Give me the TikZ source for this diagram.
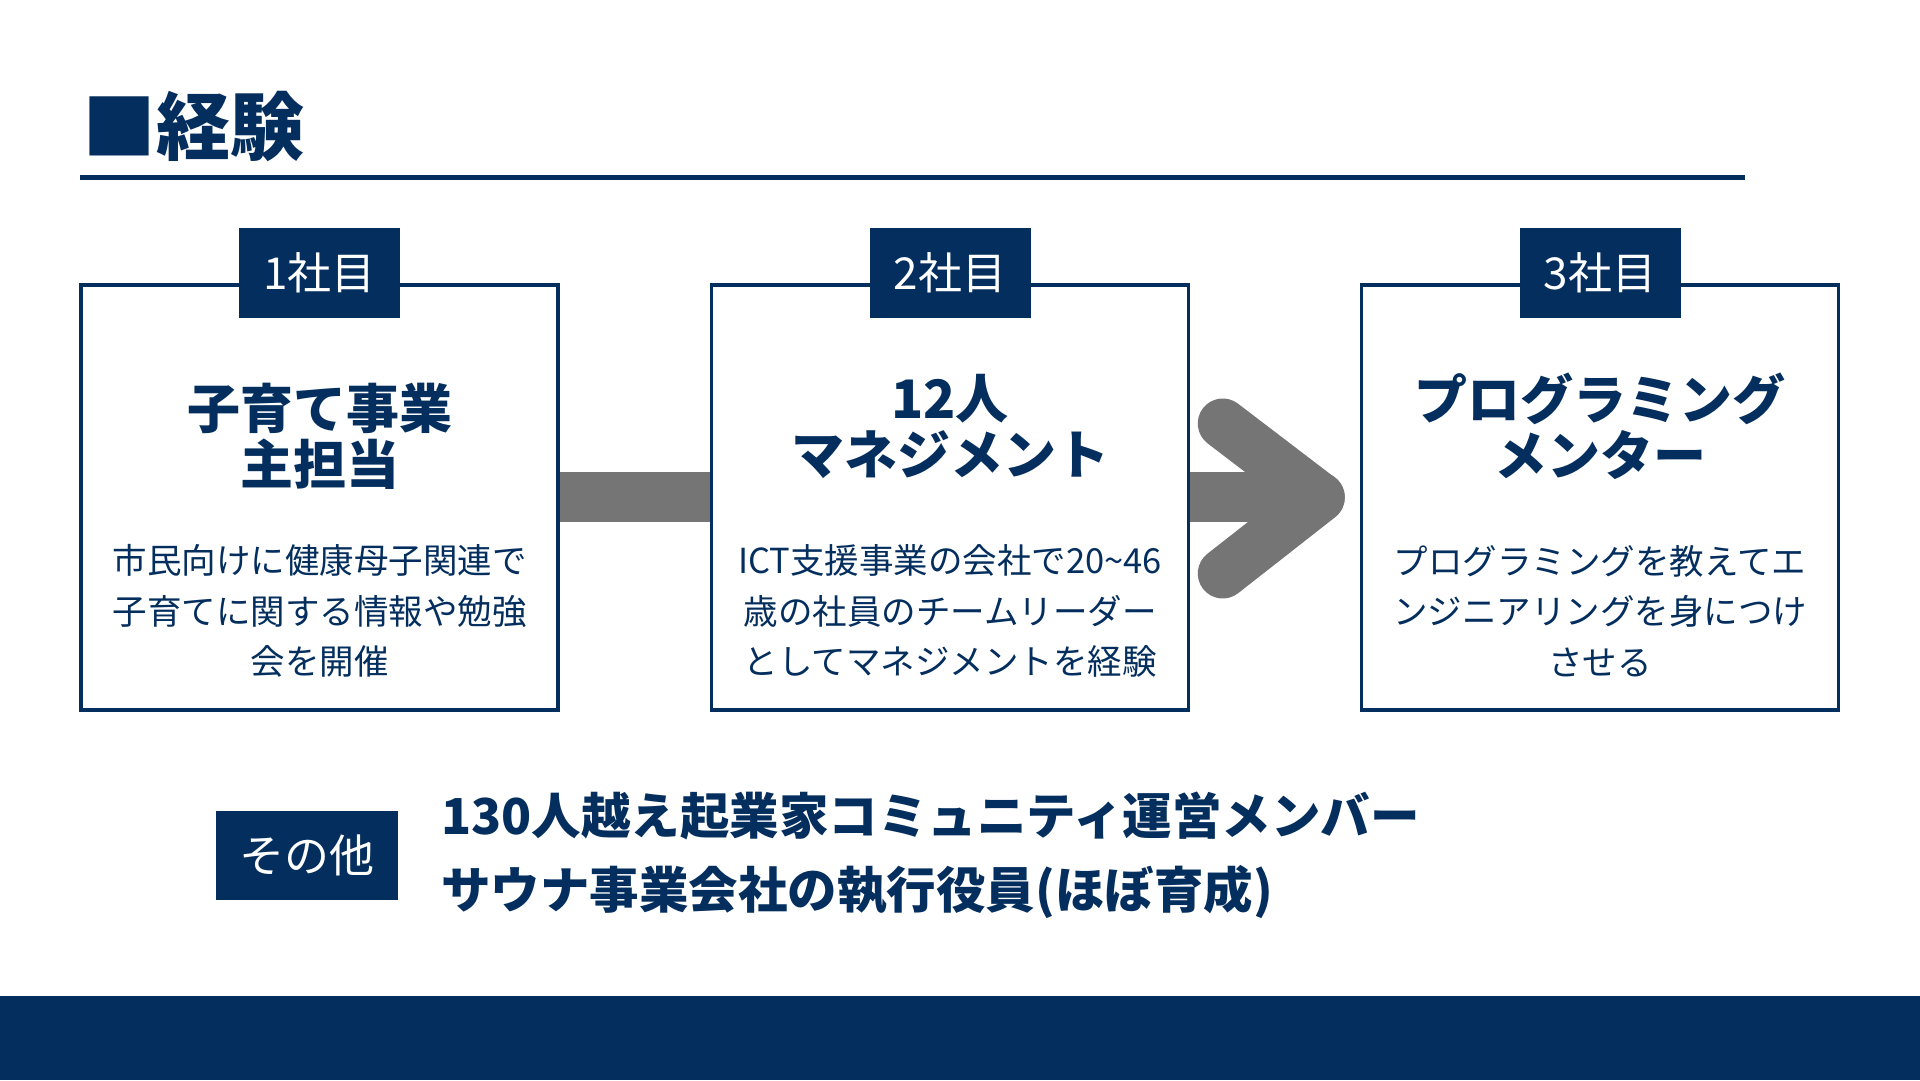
\documentclass[tikz,border=0pt]{standalone}
\usepackage{fontspec}
\setmainfont{Noto Sans CJK JP}
\usepackage{xcolor}
\usepackage{tikz}
\usetikzlibrary{positioning}

\definecolor{navy}{RGB}{4,46,94}
\definecolor{arrgray}{RGB}{117,117,117}
\pgfdeclarelayer{bg}
\pgfsetlayers{bg,main}

\begin{document}
\begin{tikzpicture}[x=1pt, y=1pt,
  card/.style={draw=navy, line width=3.5pt, fill=white,
               minimum width=477pt, minimum height=425pt, inner sep=0pt},
  tab/.style={fill=navy, text=white, minimum width=161pt, minimum height=90pt,
              inner sep=0pt, font=\fontsize{44}{44}\selectfont},
  head/.style={text=navy, align=center, inner sep=0pt,
               font=\fontsize{53}{56}\selectfont\bfseries},
  body/.style={text=navy, align=center, inner sep=0pt,
               font=\fontsize{34.5}{50.5}\selectfont},
  arr/.style={draw=arrgray, line width=50pt, line cap=round, line join=round}]
\useasboundingbox (0,0) rectangle (1920,1080);
\fill[navy] (0,0) rectangle (1920,84);
% --- heading ---
\node[text=navy, anchor=west, inner sep=0pt,
      font=\fontsize{74}{74}\selectfont\bfseries] (title) at (82,954) {■経験};
\draw[navy, line width=5pt] (80,902) -- (1745,902);
% --- three companies ---
\node[card] (box1) at (319.5,582.5) {};
\node[card, right=150pt of box1] (box2) {};
\node[card, right=169.5pt of box2] (box3) {};
\foreach \i in {1,2,3}
  \node[tab] (tab\i) at ([yshift=10pt]box\i.north) {\i{}社目};
\node[head] (head1) at ([yshift=61pt]box1.center) {子育て事業\\主担当};
\node[head] (head2) at ([yshift=71pt]box2.center) {12人\\マネジメント};
\node[head] (head3) at ([yshift=71pt]box3.center) {プログラミング\\メンター};
\node[body] (body1) at ([yshift=-113.5pt]box1.center)
  {市民向けに健康母子関連で\\子育てに関する情報や勉強\\会を開催};
\node[body] (body2) at ([yshift=-113.5pt]box2.center)
  {ICT支援事業の会社で20\textasciitilde46\\歳の社員のチームリーダー\\としてマネジメントを経験};
\node[body] (body3) at ([yshift=-113.5pt]box3.center)
  {プログラミングを教えてエ\\ンジニアリングを身につけ\\させる};
% --- big arrow behind the cards ---
\coordinate (tip) at ([xshift=-40pt]box3.west);
\begin{pgfonlayer}{bg}
\fill[white] (0,84) rectangle (1920,1080);
\draw[arr] (box1.east) -- (tip);
\draw[arr] ([shift={(-97pt,74pt)}]tip) -- (tip) -- ([shift={(-97pt,-76pt)}]tip);
\end{pgfonlayer}
% --- others ---
\node[fill=navy, text=white, minimum width=182pt, minimum height=89pt,
      inner sep=0pt, font=\fontsize{45}{45}\selectfont] (other) at (307,224.5) {その他};
\node[text=navy, align=left, inner sep=0pt, right=43pt of other,
      font=\fontsize{49.5}{74}\selectfont\bfseries] (otherlist)
  {130人越え起業家コミュニティ運営メンバー\\サウナ事業会社の執行役員(ほぼ育成)};
\end{tikzpicture}
\end{document}
